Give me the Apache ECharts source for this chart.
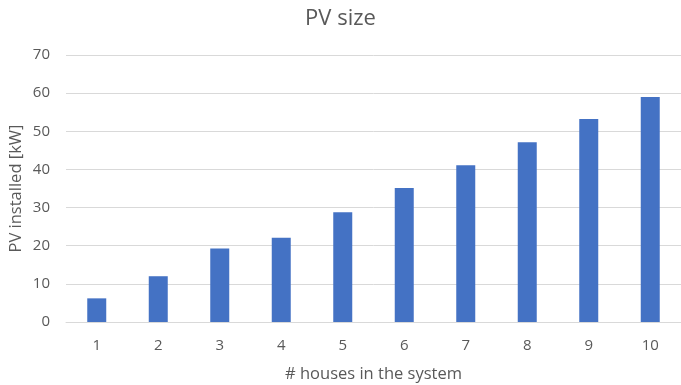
<!DOCTYPE html>
<html>
<head>
<meta charset="utf-8">
<script src="https://cdn.jsdelivr.net/npm/echarts@6/dist/echarts.min.js"></script>
<style>
  html, body { margin: 0; padding: 0; background: #ffffff; }
  #chart { width: 681px; height: 385px; }
</style>
</head>
<body>
<div id="chart"></div>
<script>
// Installed PV capacity by number of houses
const houses = ['1', '2', '3', '4', '5', '6', '7', '8', '9', '10'];
const pvInstalled = [6.2, 12.0, 19.3, 22.1, 28.8, 35.1, 41.1, 47.1, 53.2, 59.0];
const yTicks = { min: 0, max: 70, interval: 10 };

const FONT = '"Open Sans", "Liberation Sans", sans-serif';
const TEXT = '#595959';

const chart = echarts.init(document.getElementById('chart'), null, { renderer: 'canvas' });
chart.setOption({
  animation: false,
  backgroundColor: '#ffffff',
  title: {
    text: 'PV size',
    left: 'center',
    top: 3,
    textStyle: { fontFamily: FONT, fontSize: 22, fontWeight: 'normal', color: TEXT }
  },
  grid: { left: 66, right: 0, top: 55, bottom: 63, containLabel: false, outerBoundsMode: 'none' },
  xAxis: {
    type: 'category',
    data: houses,
    name: '# houses in the system',
    nameLocation: 'middle',
    nameGap: 44,
    nameTextStyle: { fontFamily: FONT, fontSize: 16.5, color: TEXT },
    axisLine: { show: true, lineStyle: { color: '#d9d9d9', width: 1 } },
    axisTick: { show: false },
    axisLabel: { fontFamily: FONT, fontSize: 15, color: TEXT, margin: 16 }
  },
  yAxis: {
    type: 'value',
    min: yTicks.min,
    max: yTicks.max,
    interval: yTicks.interval,
    name: 'PV installed [kW]',
    nameLocation: 'middle',
    nameGap: 41,
    nameMoveOverlap: false,
    nameTextStyle: { fontFamily: FONT, fontSize: 16.5, color: TEXT },
    axisLine: { show: false },
    axisTick: { show: false },
    axisLabel: { fontFamily: FONT, fontSize: 15, color: TEXT, margin: 16 },
    splitLine: { lineStyle: { color: '#d9d9d9', width: 1 } }
  },
  series: [{
    type: 'bar',
    data: pvInstalled,
    barWidth: 19,
    itemStyle: { color: '#4472c4' }
  }]
});
</script>
</body>
</html>
